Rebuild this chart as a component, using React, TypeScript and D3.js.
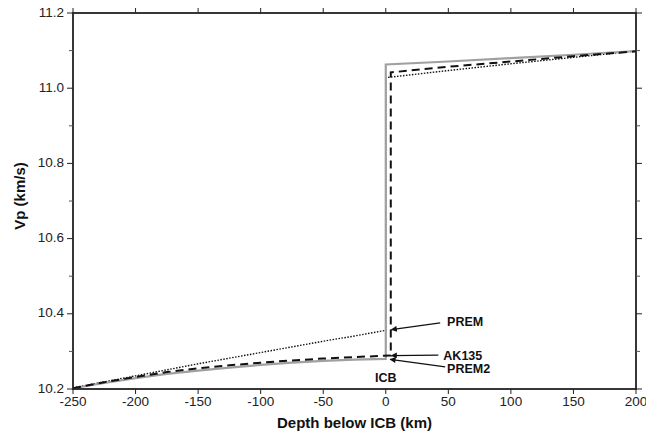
import React from "react";
import * as d3 from "d3";

// P-wave velocity across the inner-core boundary for three Earth models.
const depthPREM = [-250, -225, -200, -175, -150, -125, -100, -75, -50, -25, 0, 0, 50, 100, 150, 200];
const vpPREM = [10.203, 10.219, 10.235, 10.251, 10.267, 10.282, 10.297, 10.312, 10.327, 10.341, 10.356, 11.028, 11.047, 11.065, 11.082, 11.099];

const depthAK135 = [-250, -225, -200, -175, -150, -125, -100, -75, -50, -25, 4, 4, 50, 100, 150, 200];
const vpAK135 = [10.202, 10.218, 10.232, 10.245, 10.255, 10.263, 10.27, 10.276, 10.281, 10.285, 10.289, 11.042, 11.057, 11.071, 11.085, 11.098];

const depthPREM2 = [-250, -225, -200, -175, -150, -125, -100, -75, -50, -25, 0, 0, 50, 100, 150, 200];
const vpPREM2 = [10.202, 10.216, 10.229, 10.24, 10.249, 10.257, 10.264, 10.27, 10.275, 10.278, 10.28, 11.063, 11.071, 11.08, 11.089, 11.099];

const xTicks = [-250, -200, -150, -100, -50, 0, 50, 100, 150, 200];
const yMajor = [10.2, 10.4, 10.6, 10.8, 11.0, 11.2];
const yMinor = [10.3, 10.5, 10.7, 10.9, 11.1];

// Callouts: label anchor (depth, vp), arrow tail and arrow tip in data units
const labelNames = ["PREM", "AK135", "PREM2"];
const labelAt = [[49, 10.375], [46, 10.287], [49, 10.25]];
const arrowFrom = [[43.5, 10.376], [42, 10.29], [47.5, 10.259]];
const arrowTo = [[4.5, 10.358], [4.5, 10.289], [3.5, 10.279]];

const W = 646;
const H = 440;

export default function App() {
  const x = d3.scaleLinear().domain([-250, 200]).range([73, 636]);
  const y = d3.scaleLinear().domain([10.2, 11.2]).range([389, 13]);
  const [x0, x1] = x.range();
  const [y0, y1] = y.range();

  const line = (ds: number[], vs: number[]) =>
    d3
      .line<number>()
      .x((_, i) => x(ds[i]))
      .y((v) => y(v))(vs) as string;

  const font = "'Liberation Sans', Arial, Helvetica, sans-serif";
  const axisColor = "#222";

  return (
    <div style={{ position: "absolute", left: 0, top: 0 }}>
      <svg width={W} height={H} style={{ display: "block", background: "#fff" }} fontFamily={font}>
        <defs>
          <marker id="arrowhead" viewBox="0 0 10 10" refX="9" refY="5" markerWidth="8" markerHeight="6" orient="auto" markerUnits="userSpaceOnUse">
            <path d="M0,0 L10,5 L0,10 z" fill="#111" />
          </marker>
        </defs>

        {/* model curves */}
        <path d={line(depthPREM, vpPREM)} fill="none" stroke="#111" strokeWidth={1.4} strokeDasharray="1.5,1.5" />
        <path d={line(depthPREM2, vpPREM2)} fill="none" stroke="#a0a0a0" strokeWidth={2.2} />
        <path d={line(depthAK135, vpAK135)} fill="none" stroke="#111" strokeWidth={2} strokeDasharray="8,5" />

        {/* callouts */}
        {labelNames.map((name, i) => (
          <g key={name}>
            <line
              x1={x(arrowFrom[i][0])}
              y1={y(arrowFrom[i][1])}
              x2={x(arrowTo[i][0])}
              y2={y(arrowTo[i][1])}
              stroke="#111"
              strokeWidth={1.3}
              markerEnd="url(#arrowhead)"
            />
            <text x={x(labelAt[i][0])} y={y(labelAt[i][1])} fontSize={12.5} fontWeight="bold" fill="#111" dominantBaseline="middle">
              {name}
            </text>
          </g>
        ))}
        <text x={x(0)} y={y(10.227)} fontSize={12.5} fontWeight="bold" fill="#111" textAnchor="middle" dominantBaseline="middle">
          ICB
        </text>

        {/* frame */}
        <rect x={x0} y={y1} width={x1 - x0} height={y0 - y1} fill="none" stroke={axisColor} strokeWidth={1.8} />

        {/* x ticks, bottom and top */}
        {xTicks.map((t) => (
          <g key={"x" + t}>
            <line x1={x(t)} x2={x(t)} y1={y0} y2={y0 + 5} stroke={axisColor} strokeWidth={1} />
            <line x1={x(t)} x2={x(t)} y1={y1} y2={y1 - 5} stroke={axisColor} strokeWidth={1} />
            <text x={x(t)} y={y0 + 17} fontSize={13.5} fill="#222" textAnchor="middle">
              {t}
            </text>
          </g>
        ))}

        {/* y ticks, left and right */}
        {yMajor.map((t) => (
          <g key={"y" + t}>
            <line x1={x0 - 6} x2={x0} y1={y(t)} y2={y(t)} stroke={axisColor} strokeWidth={1} />
            <line x1={x1} x2={x1 + 6} y1={y(t)} y2={y(t)} stroke={axisColor} strokeWidth={1} />
            <text x={x0 - 9} y={y(t)} fontSize={13.5} fill="#222" textAnchor="end" dominantBaseline="middle">
              {t.toFixed(1)}
            </text>
          </g>
        ))}
        {yMinor.map((t) => (
          <g key={"ym" + t}>
            <line x1={x0 - 4} x2={x0} y1={y(t)} y2={y(t)} stroke="#555" strokeWidth={1} />
            <line x1={x1} x2={x1 + 4} y1={y(t)} y2={y(t)} stroke="#555" strokeWidth={1} />
          </g>
        ))}

        {/* axis titles */}
        <text x={(x0 + x1) / 2} y={428} fontSize={15} fontWeight="bold" fill="#111" textAnchor="middle">
          Depth below ICB (km)
        </text>
        <text
          transform={`translate(25, ${(y0 + y1) / 2 - 5}) rotate(-90)`}
          fontSize={15}
          fontWeight="bold"
          fill="#111"
          textAnchor="middle"
        >
          Vp (km/s)
        </text>
      </svg>
    </div>
  );
}
